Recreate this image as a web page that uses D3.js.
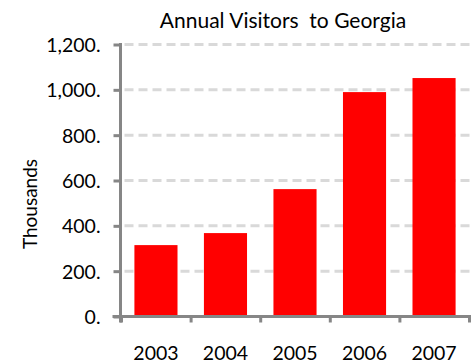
<!DOCTYPE html>
<html>
<head>
<meta charset="utf-8">
<script src="https://cdn.jsdelivr.net/npm/d3@7"></script>
<style>
  body { margin: 0; background: #fff; }
  text { font-family: Lato, "Open Sans", sans-serif; fill: #000; }
</style>
</head>
<body>
<div id="chart"></div>
<script>
// chart data
var years = ["2003", "2004", "2005", "2006", "2007"];
var visitors = [315, 368, 562, 990, 1052];
var yTicks = [0, 200, 400, 600, 800, 1000, 1200];

var width = 476, height = 364;
var margin = {top: 44.5, right: 6.5, bottom: 47.5, left: 120.5};

var svg = d3.select("#chart").append("svg")
  .attr("width", width)
  .attr("height", height);

var x = d3.scaleBand()
  .domain(years)
  .range([margin.left, width - margin.right])
  .paddingInner(0.38)
  .paddingOuter(0.2);

var y = d3.scaleLinear()
  .domain([0, 1200])
  .range([height - margin.bottom, margin.top]);

var fmt = d3.format(",");

// gridlines
svg.append("g")
  .selectAll("line")
  .data(yTicks.slice(1))
  .enter()
  .append("line")
  .attr("x1", margin.left)
  .attr("x2", width - margin.right)
  .attr("y1", function(d) { return y(d); })
  .attr("y2", function(d) { return y(d); })
  .attr("stroke", "#d9d9d9")
  .attr("stroke-width", 3)
  .attr("stroke-dasharray", "9,5")
  .attr("stroke-dashoffset", -4);

// bars
svg.append("g")
  .selectAll("rect")
  .data(visitors)
  .enter()
  .append("rect")
  .attr("x", function(d, i) { return x(years[i]); })
  .attr("y", function(d) { return y(d); })
  .attr("width", x.bandwidth())
  .attr("height", function(d) { return y(0) - y(d); })
  .style("fill", "#ff0000");

// y axis
var yAxis = svg.append("g")
  .attr("transform", "translate(" + margin.left + ",0)")
  .call(d3.axisLeft(y)
    .tickValues(yTicks)
    .tickSize(7)
    .tickPadding(13)
    .tickFormat(function(d) { return fmt(d) + "."; }));

yAxis.select(".domain").remove();
yAxis.append("line")
  .attr("x1", 0).attr("x2", 0)
  .attr("y1", margin.top - 1.5)
  .attr("y2", y(0) + 6)
  .attr("stroke", "#868686")
  .attr("stroke-width", 3);
yAxis.selectAll(".tick line")
  .attr("stroke", "#868686")
  .attr("stroke-width", 3);
yAxis.selectAll(".tick text")
  .style("font-size", "19.5px")
  .attr("dy", "0.36em");

// x axis
var xAxis = svg.append("g")
  .attr("transform", "translate(0," + y(0) + ")");

xAxis.append("line")
  .attr("x1", margin.left - 8)
  .attr("x2", width - margin.right + 1.5)
  .attr("stroke", "#868686")
  .attr("stroke-width", 3);

var xTickPos = [0, 1, 2, 3, 4, 5].map(function(i) {
  return margin.left + 1 + i * (width - margin.right - margin.left - 1) / 5;
});
xAxis.selectAll(".xtick")
  .data(xTickPos)
  .enter()
  .append("line")
  .attr("x1", function(d) { return d; })
  .attr("x2", function(d) { return d; })
  .attr("y1", 0)
  .attr("y2", 6)
  .attr("stroke", "#868686")
  .attr("stroke-width", 3);

xAxis.selectAll(".xlabel")
  .data(years)
  .enter()
  .append("text")
  .attr("x", function(d) { return x(d) + x.bandwidth() / 2; })
  .attr("y", 43)
  .attr("text-anchor", "middle")
  .style("font-size", "19.5px")
  .text(function(d) { return d; });

// title
svg.append("text")
  .attr("x", 283)
  .attr("y", 27.5)
  .attr("text-anchor", "middle")
  .style("font-size", "21px")
  .style("white-space", "pre")
  .attr("xml:space", "preserve")
  .text("Annual Visitors  to Georgia");

// y axis title
svg.append("text")
  .attr("transform", "translate(37," + 204 + ") rotate(-90)")
  .attr("text-anchor", "middle")
  .style("font-size", "19px")
  .text("Thousands");
</script>
</body>
</html>
